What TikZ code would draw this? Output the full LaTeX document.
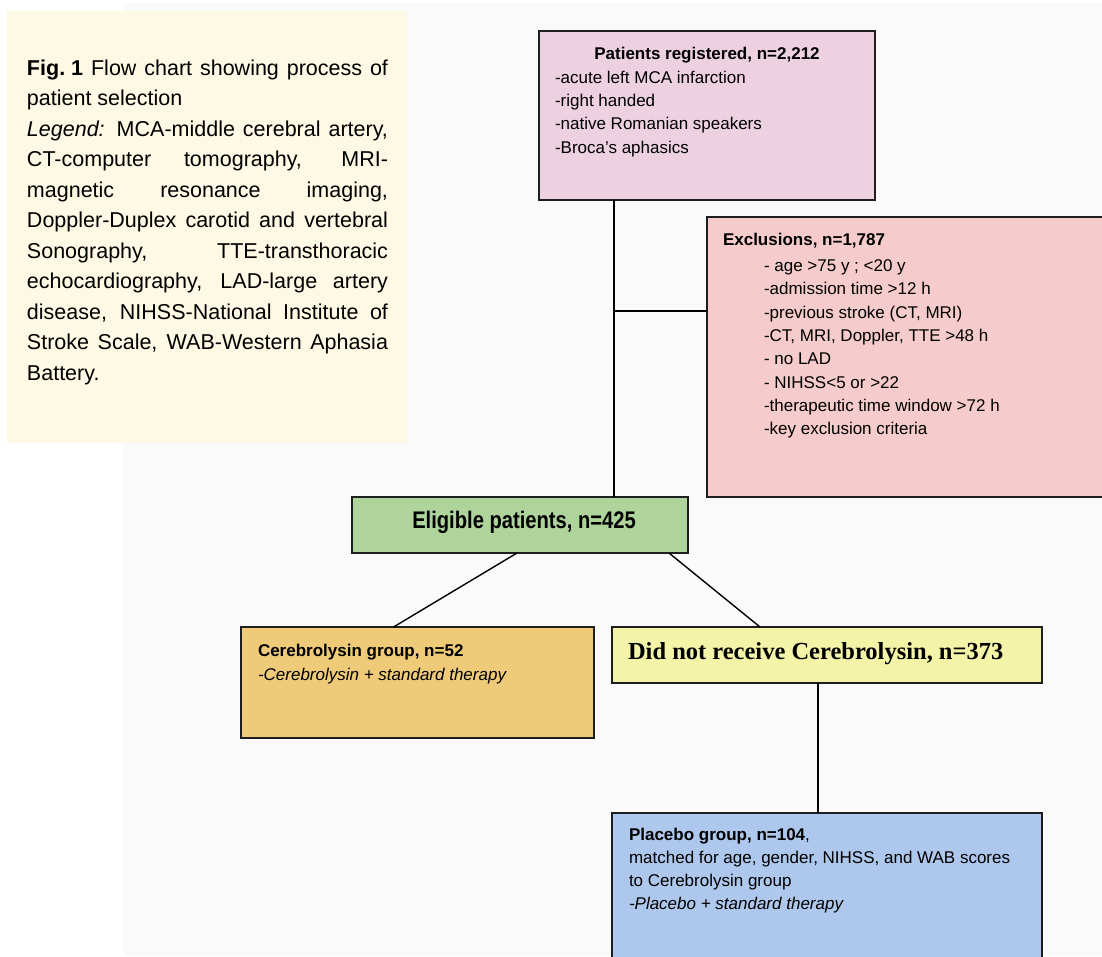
\documentclass[tikz,border=0pt]{standalone}
\usepackage{fontspec}
\setmainfont{Liberation Sans}
\newfontfamily\narrowsans[FakeStretch=0.84]{Liberation Sans}
\newfontfamily\serifface{Liberation Serif}
\usetikzlibrary{calc}
\definecolor{bggray}{HTML}{FAFAFA}
\definecolor{legendfill}{HTML}{FEF9E4}
\definecolor{boxline}{HTML}{1E1E1E}
\definecolor{regfill}{HTML}{EDD1E0}
\definecolor{exclfill}{HTML}{F5CBCB}
\definecolor{eligfill}{HTML}{AED49C}
\definecolor{cerfill}{HTML}{EFCB79}
\definecolor{dnrfill}{HTML}{F3F4A8}
\definecolor{placfill}{HTML}{AEC7EC}
\begin{document}
\begin{tikzpicture}[x=1pt,y=-1pt,
  box/.style={draw=boxline, line width=1.8pt, inner sep=0pt, outer sep=0pt, anchor=north west},
  conn/.style={draw=black, line width=1.4pt},
  txt/.style={inner sep=0pt, outer sep=0pt, anchor=base west, font=\fontsize{17}{23.4}\selectfont}]
\useasboundingbox (0,0) rectangle (1102,956);
\fill[white] (0,0) rectangle (1102,956);
\fill[bggray] (123,3) rectangle (1102,956);
\fill[legendfill] (7,11) rectangle (407,443);

% legend
\node[txt, font=\fontsize{21.5}{30.5}\selectfont] (legend) at (27,75) {\vtop{\baselineskip=30.5pt
  \hbox to 361pt{\textbf{Fig.\hspace{0.28em}1} Flow chart showing process of}
  \hbox{patient selection}
  \hbox to 361pt{\textit{Legend:} MCA-middle cerebral artery,}
  \hbox to 361pt{CT-computer tomography, MRI-}
  \hbox to 361pt{magnetic resonance imaging,}
  \hbox to 361pt{Doppler-Duplex carotid and vertebral}
  \hbox to 361pt{Sonography, TTE-transthoracic}
  \hbox to 361pt{echocardiography, LAD-large artery}
  \hbox to 361pt{disease, NIHSS-National Institute of}
  \hbox to 361pt{Stroke Scale, WAB-Western Aphasia}
  \hbox{Battery.}}};

% boxes
\node[box, fill=regfill, minimum width=336pt, minimum height=169pt] (reg) at (539,31) {};
\node[box, fill=exclfill, minimum width=400pt, minimum height=280pt] (excl) at (707,217) {};
\node[box, fill=eligfill, minimum width=336pt, minimum height=56pt] (elig) at (352,497) {};
\node[box, fill=cerfill, minimum width=353pt, minimum height=111pt] (cer) at (241,627) {};
\node[box, fill=dnrfill, minimum width=430pt, minimum height=56pt] (dnr) at (612,627) {};
\node[box, fill=placfill, minimum width=430pt, minimum height=150pt] (plac) at (612,813) {};

% texts
\node[txt, anchor=base, font=\bfseries\fontsize{17}{23.4}\selectfont] (regtitle) at (707,59) {Patients registered, n=2,212};
\node[txt] (regitems) at (555,83) {\vtop{\baselineskip=23.4pt
  \hbox{-acute left MCA infarction}
  \hbox{-right handed}
  \hbox{-native Romanian speakers}
  \hbox{-Broca’s aphasics}}};

\node[txt, font=\bfseries\fontsize{17}{23.4}\selectfont] (excltitle) at (723,245) {Exclusions, n=1,787};
\node[txt] (exclitems) at (764,271.5) {\vtop{\baselineskip=23.3pt
  \hbox{- age >75 y ; <20 y}
  \hbox{-admission time >12 h}
  \hbox{-previous stroke (CT, MRI)}
  \hbox{-CT, MRI, Doppler, TTE >48 h}
  \hbox{- no LAD}
  \hbox{- NIHSS<5 or >22}
  \hbox{-therapeutic time window >72 h}
  \hbox{-key exclusion criteria}}};

\node[txt, anchor=base, font=\narrowsans\bfseries\fontsize{24}{28}\selectfont] (eligtext) at (524,528) {Eligible patients, n=425};

\node[txt] (certext) at (258,656) {\vtop{\baselineskip=24pt
  \hbox{\bfseries Cerebrolysin group, n=52}
  \hbox{\itshape -Cerebrolysin + standard therapy}}};

\node[txt, font=\serifface\bfseries\fontsize{24.5}{28}\selectfont] (dnrtext) at (628,659) {Did not receive Cerebrolysin, n=373};

\node[txt] (plactext) at (629,840) {\vtop{\baselineskip=23pt
  \hbox{\textbf{Placebo group, n=104},}
  \hbox{matched for age, gender, NIHSS, and WAB scores}
  \hbox{to Cerebrolysin group}
  \hbox{\textit{-Placebo + standard therapy}}}};

% connectors
\coordinate (trunk) at (614,311);
\draw[conn] (trunk |- reg.south) -- (trunk |- elig.north);
\draw[conn] (trunk) -- (trunk -| excl.west);
\draw[conn] ([xshift=-3pt]elig.south) -- ([xshift=-24pt]cer.north);
\draw[conn] ([xshift=-19pt]elig.south east) -- ([xshift=-67pt]dnr.north);
\draw[conn] ([xshift=-9pt]dnr.south) -- ([xshift=-9pt]plac.north);
\end{tikzpicture}
\end{document}
